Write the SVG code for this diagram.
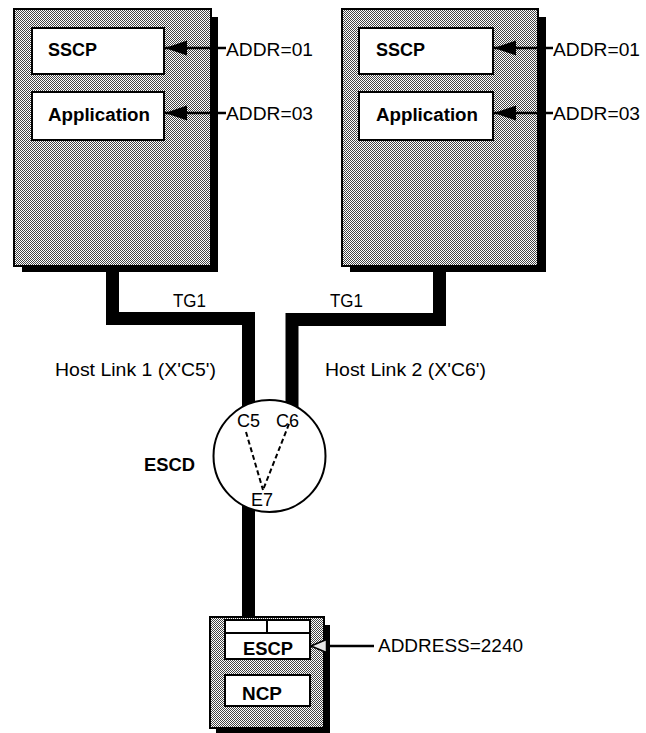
<svg xmlns="http://www.w3.org/2000/svg" width="646" height="733" viewBox="0 0 646 733">
<defs>
<pattern id="dots" patternUnits="userSpaceOnUse" x="0" y="0" width="2" height="2">
<rect width="2" height="2" fill="#ffffff"/>
<rect x="0" y="0" width="1" height="1" fill="#444"/>
<rect x="1" y="1" width="1" height="1" fill="#444"/>
</pattern>
<clipPath id="outsideCircle">
<path clip-rule="evenodd" d="M0,0 H646 V733 H0 Z M213.5,456 a56,56 0 1,0 112,0 a56,56 0 1,0 -112,0 Z"/>
</clipPath>
<marker id="arrowBlack" markerWidth="23" markerHeight="16" refX="22" refY="8" orient="auto" markerUnits="userSpaceOnUse">
<path d="M0,0.5 L22,8 L0,15.5 Z" fill="#000"/>
</marker>
<marker id="arrowHollow" markerWidth="18" markerHeight="16" refX="16.5" refY="8" orient="auto" markerUnits="userSpaceOnUse">
<path d="M1,1.5 L16.5,8 L1,14.5 Z" fill="#e6e6e6" stroke="#000" stroke-width="1.5"/>
</marker>
</defs>
<style>
.shadow{fill:#000}
.host{fill:url(#dots);stroke:#000;stroke-width:2}
.inner{fill:#fff;stroke:#000;stroke-width:2}
.bold{font-family:"Liberation Sans",Arial,Helvetica,sans-serif;font-weight:bold;font-size:18px;fill:#000}
.reg{font-family:"Liberation Sans",Arial,Helvetica,sans-serif;font-size:18px;fill:#000}
.link{fill:none;stroke:#000;stroke-width:13;stroke-linejoin:miter;stroke-linecap:butt}
.ptr{fill:none;stroke:#000;stroke-width:2.5}
.dash{fill:none;stroke:#000;stroke-width:2;stroke-dasharray:5 3}
</style>
<rect width="646" height="733" fill="#fff"/>

<g id="host1">
<rect class="shadow" x="22" y="17" width="196" height="255"/>
<rect class="host" x="14" y="9" width="197" height="257"/>
<g id="host1-sscp">
<rect class="inner" x="32" y="28" width="132" height="46"/>
<text class="bold" x="48" y="56" textLength="49" lengthAdjust="spacingAndGlyphs">SSCP</text>
</g>
<g id="host1-app">
<rect class="inner" x="32" y="92" width="132" height="48"/>
<text class="bold" x="48" y="121" textLength="102" lengthAdjust="spacingAndGlyphs">Application</text>
</g>
</g>
<text class="reg" x="226" y="56" textLength="87" lengthAdjust="spacingAndGlyphs">ADDR=01</text>
<text class="reg" x="226" y="120" textLength="87" lengthAdjust="spacingAndGlyphs">ADDR=03</text>

<g id="host2">
<rect class="shadow" x="350" y="17" width="196" height="255"/>
<rect class="host" x="342" y="9" width="196" height="257"/>
<g id="host2-sscp">
<rect class="inner" x="359" y="28" width="134" height="46"/>
<text class="bold" x="376" y="56" textLength="49" lengthAdjust="spacingAndGlyphs">SSCP</text>
</g>
<g id="host2-app">
<rect class="inner" x="359" y="92" width="134" height="48"/>
<text class="bold" x="376" y="121" textLength="102" lengthAdjust="spacingAndGlyphs">Application</text>
</g>
</g>
<text class="reg" x="553" y="56" textLength="87" lengthAdjust="spacingAndGlyphs">ADDR=01</text>
<text class="reg" x="553" y="120" textLength="87" lengthAdjust="spacingAndGlyphs">ADDR=03</text>

<text class="reg" x="173" y="307" textLength="33" lengthAdjust="spacingAndGlyphs">TG1</text>
<text class="reg" x="330" y="307" textLength="33" lengthAdjust="spacingAndGlyphs">TG1</text>
<text class="reg" x="55" y="376" textLength="161" lengthAdjust="spacingAndGlyphs">Host Link 1 (X'C5')</text>
<text class="reg" x="325" y="376" textLength="161" lengthAdjust="spacingAndGlyphs">Host Link 2 (X'C6')</text>

<g id="escd">
<circle cx="269.5" cy="456" r="56" fill="#fff" stroke="#000" stroke-width="2"/>
<text class="reg" x="237" y="427">C5</text>
<text class="reg" x="276" y="427">C6</text>
<text class="reg" x="251" y="506">E7</text>
<line class="dash" x1="246" y1="432" x2="263" y2="490"/>
<line class="dash" x1="289" y1="424" x2="263" y2="490"/>
</g>
<text class="bold" x="144" y="471" textLength="51" lengthAdjust="spacingAndGlyphs">ESCD</text>

<g id="ncp">
<rect class="shadow" x="216" y="625" width="114" height="108"/>
<rect class="host" x="210" y="617" width="114" height="111"/>
<rect class="inner" x="225" y="620" width="42" height="13"/>
<rect class="inner" x="267" y="620" width="43" height="13"/>
<g id="ncp-escp">
<rect class="inner" x="225" y="633" width="85" height="26"/>
<text class="bold" x="243" y="655" textLength="50" lengthAdjust="spacingAndGlyphs">ESCP</text>
</g>
<g id="ncp-ncp">
<rect class="inner" x="225" y="675" width="85" height="31"/>
<text class="bold" x="242" y="700" textLength="40" lengthAdjust="spacingAndGlyphs">NCP</text>
</g>
</g>
<text class="reg" x="378" y="652" textLength="145" lengthAdjust="spacingAndGlyphs">ADDRESS=2240</text>

<g id="connectors">
<g clip-path="url(#outsideCircle)">
<path class="link" d="M112.5,272 V318.5 H248.5 V420"/>
<path class="link" d="M439.5,272 V319.5 H292 V420"/>
<path class="link" d="M248.5,495 V617"/>
</g>
<line class="ptr" x1="226" y1="48" x2="165" y2="48" marker-end="url(#arrowBlack)"/>
<line class="ptr" x1="226" y1="113" x2="165" y2="113" marker-end="url(#arrowBlack)"/>
<line class="ptr" x1="553" y1="48" x2="494" y2="48" marker-end="url(#arrowBlack)"/>
<line class="ptr" x1="553" y1="113" x2="494" y2="113" marker-end="url(#arrowBlack)"/>
<line class="ptr" x1="374" y1="646" x2="311" y2="646" stroke-width="1.5" marker-end="url(#arrowHollow)"/>
</g>
</svg>
